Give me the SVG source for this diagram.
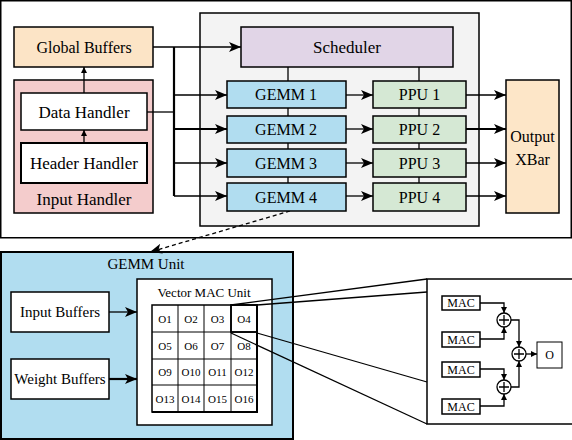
<svg xmlns="http://www.w3.org/2000/svg" width="572" height="440" viewBox="0 0 572 440">
<defs>
<marker id="ah" markerUnits="userSpaceOnUse" markerWidth="12" markerHeight="10" refX="12" refY="5" orient="auto"><path d="M0,0 L12,5 L0,10 L3,5 Z" fill="#000"/></marker>
<marker id="as" markerUnits="userSpaceOnUse" markerWidth="6" markerHeight="6" refX="6" refY="3" orient="auto"><path d="M0,0 L6,3 L0,6 Z" fill="#000"/></marker>
</defs>
<style>
text{font-family:"Liberation Serif","Times New Roman",serif;fill:#000;text-anchor:middle}
.b{stroke:#000;stroke-width:1.5}
.l{stroke:#000;stroke-width:1.3;fill:none}
.t17{font-size:17px}
.t16{font-size:16px}
.t15{font-size:15px}
.t13{font-size:13px}
.t11{font-size:11px}
.t12{font-size:12px}
</style>
<rect x="0.75" y="0.75" width="570.5" height="237" fill="#fff" class="b"/>
<g id="core"><rect x="200" y="13" width="279" height="213" fill="#f3f3f3" class="b"/></g>
<g id="input-handler"><rect x="14" y="80" width="139" height="133" fill="#f4cccc" class="b"/><text x="84" y="205" class="t17">Input Handler</text></g>
<g id="gemm-unit"><rect x="1" y="252" width="292" height="187" fill="#b1ddf0" stroke="#000" stroke-width="2"/><text x="146" y="269" class="t15">GEMM Unit</text></g>
<g id="vector-mac-unit"><rect x="137" y="279" width="135" height="146" fill="#fff" class="b"/><text x="204" y="297" class="t13">Vector MAC Unit</text>
<g class="t11" fill="none">
<rect x="152" y="305" width="105" height="107" fill="none" stroke="#000" stroke-width="1.5"/>
<path d="M178,305V412M204,305V412M231,305V412M152,332H257M152,359H257M152,385H257" stroke="#000" stroke-width="1"/>
<rect x="231" y="305" width="26" height="27" fill="none" stroke="#000" stroke-width="1.8"/>
<path d="M257,305V412H152" stroke="#000" stroke-width="2" fill="none"/>
<text x="165" y="322.5">O1</text><text x="191" y="322.5">O2</text><text x="217.5" y="322.5">O3</text><text x="244" y="322.5">O4</text>
<text x="165" y="349.5">O5</text><text x="191" y="349.5">O6</text><text x="217.5" y="349.5">O7</text><text x="244" y="349.5">O8</text>
<text x="165" y="376">O9</text><text x="191" y="376">O10</text><text x="217.5" y="376">O11</text><text x="244" y="376">O12</text>
<text x="165" y="402.5">O13</text><text x="191" y="402.5">O14</text><text x="217.5" y="402.5">O15</text><text x="244" y="402.5">O16</text>
</g></g>
<g id="mac-detail"><rect x="427" y="279" width="146" height="145" fill="#fff" class="b"/></g>
<g id="connectors">
<line x1="288" y1="67" x2="288" y2="211" class="l"/>
<line x1="419" y1="67" x2="419" y2="183" class="l"/>
<line x1="84" y1="93" x2="84" y2="67" class="l" marker-end="url(#as)"/>
<line x1="84" y1="143" x2="84" y2="130" class="l" marker-end="url(#as)"/>
<line x1="153" y1="47" x2="241" y2="47" class="l" marker-end="url(#ah)"/>
<line x1="147" y1="112" x2="174" y2="112" class="l"/>
<line x1="174" y1="47" x2="174" y2="196" stroke="#000" stroke-width="2.2"/>
<line x1="174" y1="95" x2="227" y2="95" class="l" marker-end="url(#ah)"/>
<line x1="174" y1="129" x2="227" y2="129" stroke="#000" stroke-width="2.2" marker-end="url(#ah)"/>
<line x1="174" y1="163" x2="227" y2="163" class="l" marker-end="url(#ah)"/>
<line x1="174" y1="196" x2="227" y2="196" class="l" marker-end="url(#ah)"/>
<line x1="346" y1="95" x2="373" y2="95" class="l" marker-end="url(#ah)"/>
<line x1="346" y1="129" x2="373" y2="129" class="l" marker-end="url(#ah)"/>
<line x1="346" y1="163" x2="373" y2="163" class="l" marker-end="url(#ah)"/>
<line x1="346" y1="196" x2="373" y2="196" class="l" marker-end="url(#ah)"/>
<line x1="466" y1="95" x2="506" y2="95" class="l" marker-end="url(#ah)"/>
<line x1="466" y1="129" x2="506" y2="129" stroke="#000" stroke-width="2" marker-end="url(#ah)"/>
<line x1="466" y1="163" x2="506" y2="163" class="l" marker-end="url(#ah)"/>
<line x1="466" y1="196" x2="506" y2="196" class="l" marker-end="url(#ah)"/>
<line x1="290" y1="211" x2="150" y2="252" class="l" stroke-dasharray="4,3" marker-end="url(#ah)"/>
<line x1="109" y1="312" x2="137" y2="312" class="l" marker-end="url(#ah)"/>
<line x1="109" y1="379" x2="137" y2="379" stroke="#000" stroke-width="2.2" marker-end="url(#ah)"/>
<line x1="231" y1="305" x2="427" y2="279" class="l"/>
<line x1="257" y1="305" x2="427" y2="292" class="l"/>
<line x1="231" y1="333" x2="427" y2="424" class="l"/>
<line x1="257" y1="333" x2="427" y2="382" class="l"/>
<polyline points="480,303 504,303 504,313" class="l" marker-end="url(#as)"/>
<polyline points="480,339 504,339 504,327" class="l" marker-end="url(#as)"/>
<polyline points="480,369 504,369 504,380" class="l" marker-end="url(#as)"/>
<polyline points="480,406 504,406 504,394" class="l" marker-end="url(#as)"/>
<polyline points="511,320 519,320 519,347" class="l" marker-end="url(#as)"/>
<polyline points="511,387 519,387 519,361" class="l" marker-end="url(#as)"/>
<line x1="526" y1="354" x2="537" y2="354" class="l" marker-end="url(#as)"/>
</g>
<g id="global-buffers"><rect x="14" y="27" width="139" height="40" fill="#fce4c6" class="b"/><text x="84" y="53" class="t16">Global Buffers</text></g>
<g id="data-handler"><rect x="21" y="93" width="126" height="37" fill="#fff" class="b"/><text x="84" y="118" class="t17">Data Handler</text></g>
<g id="header-handler"><rect x="21" y="143" width="126" height="40" fill="#fff" stroke="#000" stroke-width="2"/><text x="84" y="169" class="t17">Header Handler</text></g>
<g id="scheduler"><rect x="241" y="27" width="212" height="40" fill="#e1d5e7" class="b"/><text x="347" y="53" class="t17">Scheduler</text></g>
<g id="gemm1"><rect x="227" y="81" width="119" height="27" fill="#b1ddf0" class="b"/><text x="286" y="100" class="t16">GEMM 1</text></g>
<g id="gemm2"><rect x="227" y="116" width="119" height="27" fill="#b1ddf0" class="b"/><text x="286" y="135" class="t16">GEMM 2</text></g>
<g id="gemm3"><rect x="227" y="149" width="119" height="28" fill="#b1ddf0" class="b"/><text x="286" y="168.5" class="t16">GEMM 3</text></g>
<g id="gemm4"><rect x="227" y="183" width="119" height="28" fill="#b1ddf0" class="b"/><text x="286" y="202.5" class="t16">GEMM 4</text></g>
<g id="ppu1"><rect x="373" y="81" width="93" height="27" fill="#d5e8d4" class="b"/><text x="419.5" y="100" class="t16">PPU 1</text></g>
<g id="ppu2"><rect x="373" y="116" width="93" height="27" fill="#d5e8d4" class="b"/><text x="419.5" y="135" class="t16">PPU 2</text></g>
<g id="ppu3"><rect x="373" y="149" width="93" height="28" fill="#d5e8d4" class="b"/><text x="419.5" y="168.5" class="t16">PPU 3</text></g>
<g id="ppu4"><rect x="373" y="183" width="93" height="28" fill="#d5e8d4" class="b"/><text x="419.5" y="202.5" class="t16">PPU 4</text></g>
<g id="output-xbar"><rect x="506" y="80" width="53" height="133" fill="#fde6c8" class="b"/><text x="532.5" y="142" class="t16">Output</text><text x="532.5" y="165" class="t16">XBar</text></g>
<g id="input-buffers"><rect x="11" y="292" width="98" height="40" fill="#fff" class="b"/><text x="60" y="317" class="t15">Input Buffers</text></g>
<g id="weight-buffers"><rect x="11" y="359" width="98" height="40" fill="#fff" class="b"/><text x="60" y="384" class="t15">Weight Buffers</text></g>
<g id="mac1"><rect x="442" y="296" width="38" height="14" fill="#fff" class="b"/><text x="461" y="307" class="t12">MAC</text></g>
<g id="mac2"><rect x="442" y="332" width="38" height="15" fill="#fff" class="b"/><text x="461" y="343.5" class="t12">MAC</text></g>
<g id="mac3"><rect x="442" y="362" width="38" height="15" fill="#fff" class="b"/><text x="461" y="373.5" class="t12">MAC</text></g>
<g id="mac4"><rect x="442" y="399" width="38" height="15" fill="#fff" class="b"/><text x="461" y="410.5" class="t12">MAC</text></g>
<g id="add1"><circle cx="504" cy="320" r="7" fill="#fff" class="l"/><path d="M499,320H509M504,315V325" class="l"/></g>
<g id="add2"><circle cx="519" cy="354" r="7" fill="#fff" class="l"/><path d="M514,354H524M519,349V359" class="l"/></g>
<g id="add3"><circle cx="504" cy="387" r="7" fill="#fff" class="l"/><path d="M499,387H509M504,382V392" class="l"/></g>
<g id="out-o"><rect x="537" y="342" width="25" height="26" fill="#fff" stroke="#000" stroke-width="1"/><text x="549.5" y="359" class="t12">O</text></g>
</svg>
